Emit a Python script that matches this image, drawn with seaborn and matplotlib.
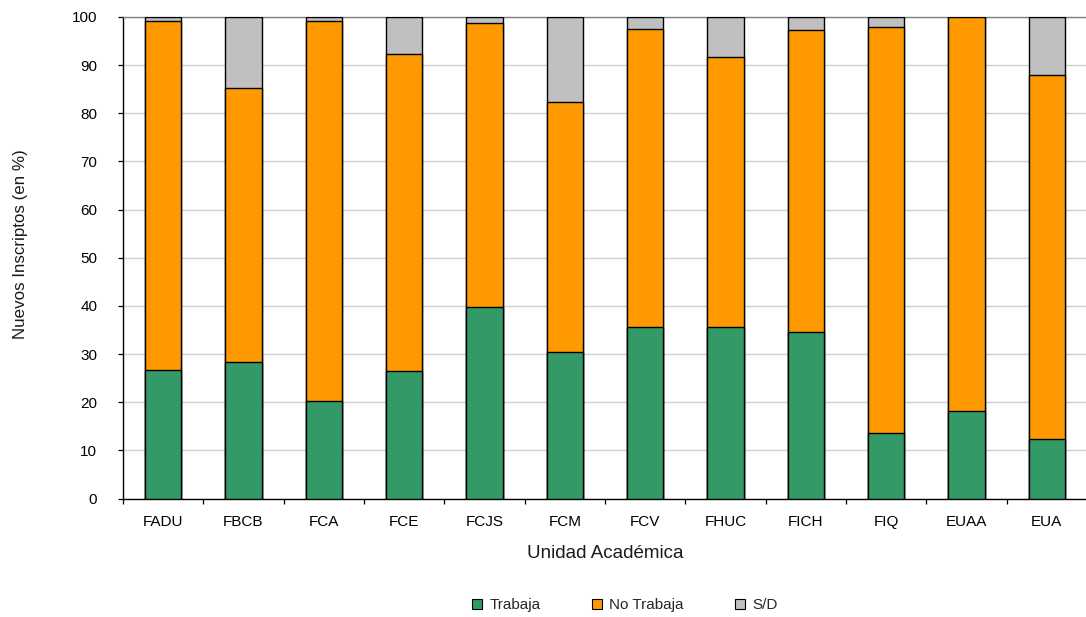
import numpy as np
import pandas as pd
import matplotlib
matplotlib.use("Agg")
import matplotlib.pyplot as plt
import seaborn as sns
from matplotlib.patches import Patch
from matplotlib.ticker import FixedLocator

categories = ["FADU", "FBCB", "FCA", "FCE", "FCJS", "FCM", "FCV", "FHUC", "FICH", "FIQ", "EUAA", "EUA"]
trabaja = [26.6, 28.3, 20.2, 26.4, 39.7, 30.5, 35.7, 35.7, 34.5, 13.6, 18.2, 12.3]
no_trabaja = [72.5, 56.9, 78.9, 65.9, 59.0, 51.8, 61.9, 56.0, 62.9, 84.4, 81.8, 75.6]
sin_dato = [0.9, 14.8, 0.9, 7.7, 1.3, 17.7, 2.4, 8.3, 2.6, 2.0, 0.0, 12.1]
series_labels = ["Trabaja", "No Trabaja", "S/D"]
colors = ["#339966", "#FF9900", "#C0C0C0"]
y_ticks = list(range(0, 101, 10))

sns.set_theme(style="white")
plt.rcParams['font.family'] = ['Liberation Sans', 'DejaVu Sans']

df = pd.DataFrame({"unidad": categories, "t": trabaja, "nt": no_trabaja, "sd": sin_dato})
df["c1"] = df["t"]
df["c2"] = df["t"] + df["nt"]
df["c3"] = df["c2"] + df["sd"]

fig = plt.figure(figsize=(10.86, 6.17), dpi=100)
ax = fig.add_axes([123 / 1086, 1 - 498.5 / 617, 964 / 1086, 481.5 / 617])

for col, c in zip(["c3", "c2", "c1"], [colors[2], colors[1], colors[0]]):
    sns.barplot(data=df, x="unidad", y=col, color=c, width=0.45, saturation=1,
                edgecolor="black", linewidth=1.0, errorbar=None, ax=ax, zorder=3)

ax.set_xlim(-0.5, 11.5)
ax.set_ylim(0, 100)
ax.yaxis.set_major_locator(FixedLocator(y_ticks))
ax.set_axisbelow(True)
ax.yaxis.grid(True, color="#D0D0D0", linewidth=1.0, zorder=0)
ax.xaxis.grid(False)

ax.spines["right"].set_visible(False)
ax.spines["top"].set_color("#808080")
ax.spines["top"].set_linewidth(1.0)
ax.spines["left"].set_color("black")
ax.spines["bottom"].set_color("black")
ax.spines["left"].set_linewidth(1.0)
ax.spines["bottom"].set_linewidth(1.0)

ax.tick_params(axis="y", which="major", direction="out", length=3.6, width=0.9,
               color="black", pad=15, labelsize=11, left=True, labelcolor="black")
ax.xaxis.set_minor_locator(FixedLocator(np.arange(-0.5, 12.0, 1.0)))
ax.tick_params(axis="x", which="major", length=0, pad=12, labelsize=11, labelcolor="black", bottom=True)
ax.tick_params(axis="x", which="minor", direction="out", length=3.6, width=0.9, color="black", bottom=True)

ax.set_xlabel("Unidad Académica", fontsize=13.5, color="#1a1a1a", va="center")
ax.xaxis.set_label_coords(0.5, (498.5 - 553) / 481.5)
ax.set_ylabel("Nuevos Inscriptos (en %)", fontsize=12.2, color="#1a1a1a", va="center")
ax.yaxis.set_label_coords((21 - 123) / 964, (498.5 - 244) / 481.5)

handles = [Patch(facecolor=c, edgecolor="black", linewidth=0.8) for c in colors]
fig.legend(handles=handles, labels=series_labels, loc="center",
           bbox_to_anchor=(625 / 1086, 1 - 605 / 617), ncol=3, frameon=False,
           fontsize=11, handlelength=0.65, handleheight=0.65, handletextpad=0.45,
           columnspacing=3.4)

fig.savefig("out.png", dpi=100)
